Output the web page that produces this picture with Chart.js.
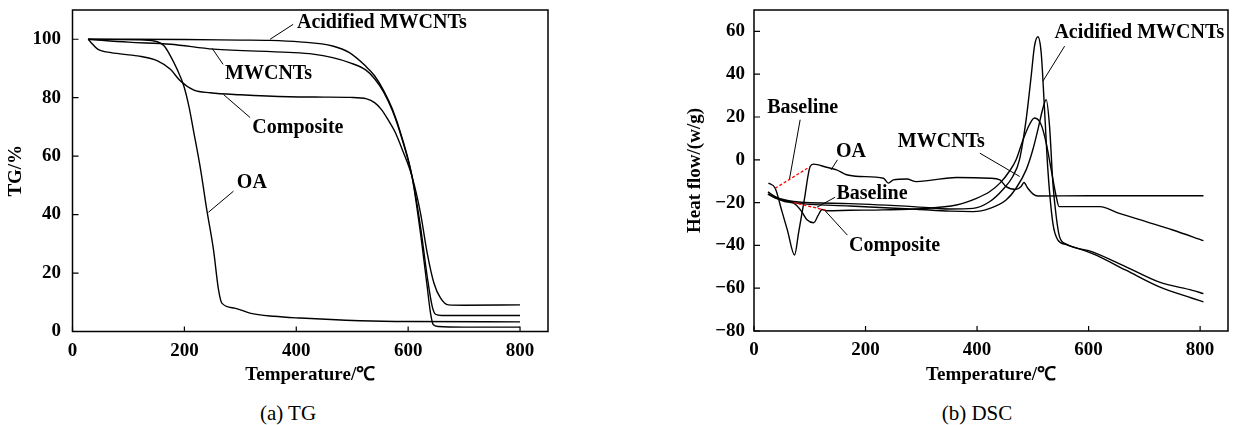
<!DOCTYPE html>
<html>
<head>
<meta charset="utf-8">
<script src="https://cdn.jsdelivr.net/npm/chart.js@4.4.1/dist/chart.umd.min.js"></script>
<style>
    body { margin: 0; background: #fff; width: 1235px; height: 425px; position: relative; overflow: hidden; }
    #wrap-tg { position: absolute; left: 0; top: 0; width: 620px; height: 395px; }
    #wrap-dsc { position: absolute; left: 675px; top: 0; width: 560px; height: 395px; }
    .caption { position: absolute; top: 400px; width: 200px; text-align: center; line-height: 26px;
               font-family: "Liberation Serif", "Times New Roman", serif; font-size: 21px; color: #000; }
</style>
</head>
<body>
<div id="wrap-tg"><canvas id="tg-chart"></canvas></div>
<div id="wrap-dsc"><canvas id="dsc-chart"></canvas></div>
<div class="caption" style="left:188px">(a) TG</div>
<div class="caption" style="left:877px">(b) DSC</div>
<script>
// Graduations
const tempTicks = [0, 200, 400, 600, 800];
const tgTicks = [0, 20, 40, 60, 80, 100];
const dscTicks = [-80, -60, -40, -20, 0, 20, 40, 60];

// Données TG : [température, masse %]
const tgAcidified = [[28,100],[100,100],[200,99.9],[300,99.7],[352,99.6],[406,99.1],[465,97.7],[495,95.4],[524,90.8],[540,87.5],[556,82.5],[572,76],[588,67],[607,53],[622,33.7],[634,15.4],[640,6.3],[645,2.3],[654,1.7],[700,1.5],[800,1.5]];
const tgMwcnt = [[28,100],[100,99],[175,98.3],[252,96.6],[387,95.5],[430,94.9],[465,93.7],[495,92],[524,89.5],[540,86.5],[556,82],[572,75.5],[588,66.5],[607,53],[622,36],[634,18.9],[643,8.6],[649,5.9],[660,5.5],[800,5.5]];
const tgComposite = [[28,100],[33,98.9],[45,96.6],[69,95.4],[116,94.3],[152,92.6],[175,89.7],[193,85.7],[217,82.6],[246,81.7],[300,81],[387,80.3],[450,80.2],[496,80.1],[526,79.6],[540,78.3],[552,76],[564,72.5],[576,68.5],[590,62],[607,53],[622,40.6],[634,26.9],[646,16.6],[658,11.4],[672,9.1],[700,9],[800,9.1]];
const tgOA = [[28,100],[116,99.8],[146,99.4],[164,97.7],[175,94.3],[187,89.7],[199,84],[208,77.1],[217,68],[229,55.4],[240,41.7],[252,28],[261,14.3],[267,9.7],[290,8],[317,6.3],[360,5.2],[407,4.6],[514,3.7],[600,3.4],[800,3.3]];

// Données DSC : [température, flux de chaleur]
const dscAcidified = [[25,-15],[40,-17.5],[71,-19.5],[172,-20.5],[291,-22],[351,-23],[393,-22.7],[423,-19.5],[446,-14],[464,-7.8],[476,0],[488,18.8],[497,39],[503,53.1],[509,57.5],[515,50],[521,23.4],[527,-4.7],[536,-29.7],[545,-37.5],[560,-39.6],[608,-44],[667,-51.6],[727,-59.4],[786,-64.7],[806,-66.4]];
const dscMwcnt = [[25,-16],[40,-18],[71,-20],[172,-21.6],[291,-23.1],[351,-24],[393,-24.2],[423,-22.7],[452,-18.8],[470,-13.3],[488,-4.7],[500,4.7],[509,14],[518,24],[524,28.1],[530,15.6],[536,-11],[542,-26.6],[548,-36],[560,-39.4],[608,-43.1],[667,-50],[727,-57.2],[786,-61],[806,-62.5]];
const dscComposite = [[25,-16],[40,-18],[55,-19.5],[71,-20.3],[85,-24],[95,-28],[107,-29.4],[115,-26],[122,-23.2],[130,-23.8],[172,-23.6],[232,-23.4],[300,-22.8],[363,-21.1],[399,-18],[423,-14.8],[441,-10.9],[459,-5],[470,0],[482,9],[494,16.5],[503,19.5],[515,16.4],[524,7.8],[533,-4.7],[542,-17.2],[547,-21.9],[620,-21.9],[655,-25],[703,-28.9],[751,-32.8],[806,-37.8]];
const dscOA = [[26,-10.9],[38,-13.3],[50,-24],[60,-33],[72.7,-44.5],[80,-34],[90,-19],[100.7,-3.1],[106.7,-2],[130,-3.5],[148,-4.7],[166,-7],[190,-7.8],[232,-8.6],[241,-10.9],[250,-9.4],[274,-9],[291,-10.2],[315,-9.6],[363,-8.3],[423,-8.6],[441,-9.4],[452,-12.5],[470,-13.8],[479,-12.5],[484,-10.6],[491,-13.3],[500,-15.9],[509,-16.9],[600,-16.8],[806,-16.8]];
const dscBaseline1 = [[38,-13.3],[101,-3.1]];
const dscBaseline2 = [[71,-20],[131,-23.7]];

// Étiquettes avec traits de rappel (coordonnées en unités des axes)
const tgLabels = [
    { text: 'Acidified MWCNTs', at: [553, 105.5], from: [394.5, 105.1], to: [353.3, 100] },
    { text: 'MWCNTs', at: [350.6, 88.2], from: [269.2, 91.4], to: [249.6, 96.9] },
    { text: 'Composite', at: [402.9, 69.8], from: [317.5, 73.2], to: [269.8, 81.1] },
    { text: 'OA', at: [320.6, 50.9], from: [287.7, 48], to: [243, 40.8] }
];
const dscLabels = [
    { text: 'Baseline', at: [87.3, 24.4], from: [82.8, 18.75], to: [63.7, -8.9] },
    { text: 'OA', at: [174, 3.5], from: [149.6, 0], to: [138.3, -4.7] },
    { text: 'Baseline', at: [211.6, -15.9], from: [145.4, -17.5], to: [112.7, -22.2] },
    { text: 'Composite', at: [252.2, -40.1], from: [167.4, -35.2], to: [127.5, -23.8] },
    { text: 'MWCNTs', at: [336, 8.6], from: [405, 3.1], to: [476.4, -7.8] },
    { text: 'Acidified MWCNTs', at: [691, 59.1], from: [557, 53.1], to: [518, 36.7] }
];

const FONT = "'Liberation Serif', 'Times New Roman', serif";
Chart.defaults.font.family = FONT;
Chart.defaults.color = '#000';

function toPoints(arr) {
    return arr.map(p => ({ x: p[0], y: p[1] }));
}

function curve(arr) {
    return {
        data: toPoints(arr),
        borderColor: '#000',
        borderWidth: 1.4,
        pointRadius: 0,
        cubicInterpolationMode: 'monotone',
        fill: false
    };
}

function dashed(arr) {
    return {
        data: toPoints(arr),
        borderColor: '#ff0000',
        borderWidth: 1.3,
        borderDash: [3, 2],
        pointRadius: 0,
        tension: 0,
        fill: false
    };
}

// Cadre, graduations intérieures et étiquettes
const framePlugin = {
    id: 'frame',
    afterDatasetsDraw(chart, args, opts) {
        const { ctx, chartArea: a, scales: { x, y } } = chart;
        ctx.save();
        ctx.strokeStyle = '#000';
        ctx.lineWidth = 1.2;
        ctx.beginPath();
        x.ticks.forEach(t => {
            const px = x.getPixelForValue(t.value);
            ctx.moveTo(px, a.bottom);
            ctx.lineTo(px, a.bottom - 5);
        });
        y.ticks.forEach(t => {
            const py = y.getPixelForValue(t.value);
            ctx.moveTo(a.left, py);
            ctx.lineTo(a.left + 6, py);
        });
        ctx.stroke();
        ctx.lineWidth = 1.5;
        ctx.strokeRect(a.left, a.top, a.right - a.left, a.bottom - a.top);

        ctx.lineWidth = 1;
        ctx.font = 'bold 20px ' + FONT;
        ctx.fillStyle = '#000';
        ctx.textAlign = 'center';
        ctx.textBaseline = 'middle';
        (opts.labels || []).forEach(l => {
            ctx.beginPath();
            ctx.moveTo(x.getPixelForValue(l.from[0]), y.getPixelForValue(l.from[1]));
            ctx.lineTo(x.getPixelForValue(l.to[0]), y.getPixelForValue(l.to[1]));
            ctx.stroke();
            ctx.fillText(l.text, x.getPixelForValue(l.at[0]), y.getPixelForValue(l.at[1]));
        });
        ctx.restore();
    }
};

function makeChart(id, cfg) {
    const tickFont = { family: FONT, size: 19, weight: 'bold' };
    return new Chart(document.getElementById(id).getContext('2d'), {
        type: 'line',
        data: { datasets: cfg.datasets },
        plugins: [framePlugin],
        options: {
            responsive: true,
            maintainAspectRatio: false,
            animation: false,
            layout: { padding: { top: 10, right: cfg.padRight, bottom: 0, left: 0 } },
            plugins: {
                legend: { display: false },
                tooltip: { enabled: false },
                frame: { labels: cfg.labels }
            },
            scales: {
                x: {
                    type: 'linear',
                    min: 0,
                    max: 850,
                    afterBuildTicks: s => { s.ticks = tempTicks.map(v => ({ value: v })); },
                    afterFit: s => { s.height = cfg.xHeight; s.paddingLeft = 0; s.paddingRight = 0; },
                    ticks: { font: tickFont, color: '#000', padding: 8, maxRotation: 0 },
                    grid: { display: false, drawTicks: false },
                    border: { display: false },
                    title: { display: true, text: 'Temperature/℃', font: tickFont, color: '#000', padding: { top: 0, bottom: 8.6 } }
                },
                y: {
                    type: 'linear',
                    min: cfg.yMin,
                    max: cfg.yMax,
                    afterBuildTicks: s => { s.ticks = cfg.yTicks.map(v => ({ value: v })); },
                    afterFit: s => { s.width = cfg.yWidth; s.paddingTop = 0; s.paddingBottom = 0; },
                    ticks: {
                        font: tickFont,
                        color: '#000',
                        padding: cfg.yPad,
                        callback: v => (v < 0 ? '\u2212' + Math.abs(v) : String(v))
                    },
                    grid: { display: false, drawTicks: false },
                    border: { display: false },
                    title: { display: true, text: cfg.yTitle, font: tickFont, color: '#000', padding: { top: cfg.yTitlePad, bottom: 0 } }
                }
            }
        }
    });
}

makeChart('tg-chart', {
    datasets: [curve(tgAcidified), curve(tgMwcnt), curve(tgComposite), curve(tgOA)],
    labels: tgLabels,
    yMin: 0, yMax: 110, yTicks: tgTicks, yTitle: 'TG/%',
    yWidth: 72.5, yPad: 11.5, yTitlePad: 4.6,
    xHeight: 63.5, padRight: 72
});

makeChart('dsc-chart', {
    datasets: [dashed(dscBaseline1), dashed(dscBaseline2), curve(dscAcidified), curve(dscMwcnt), curve(dscComposite), curve(dscOA)],
    labels: dscLabels,
    yMin: -80, yMax: 70, yTicks: dscTicks, yTitle: 'Heat flow/(w/g)',
    yWidth: 79, yPad: 9, yTitlePad: 8.6,
    xHeight: 64, padRight: 7
});
</script>
</body>
</html>
